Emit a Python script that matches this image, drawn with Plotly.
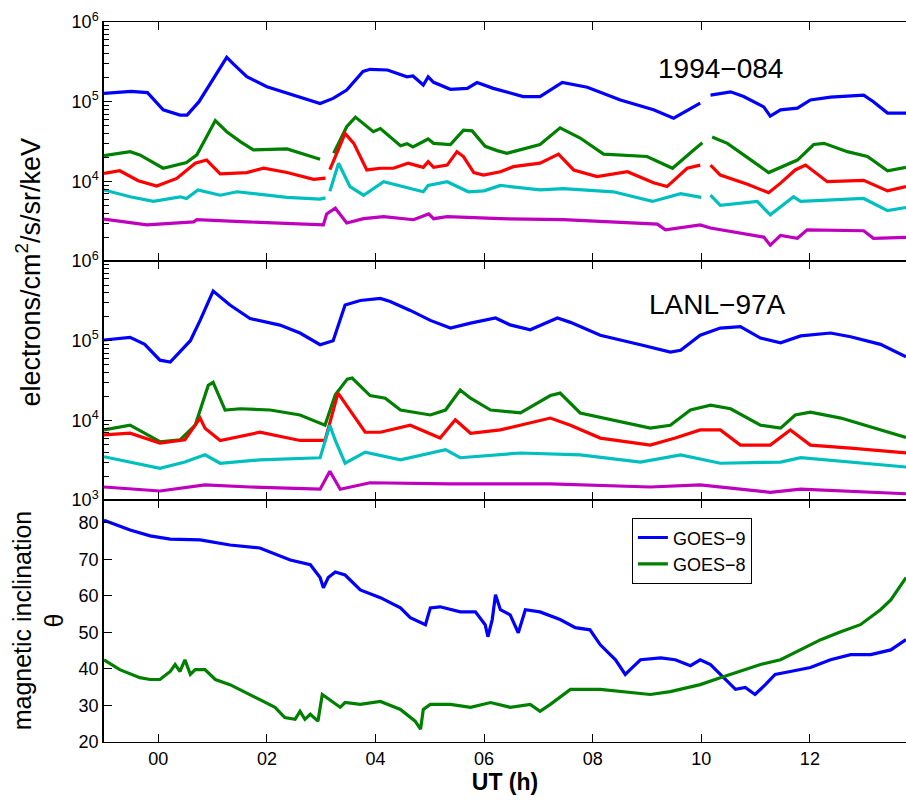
import plotly.graph_objects as go
from plotly.subplots import make_subplots

# ---------------- data ----------------
# Panel 1: 1994-084 (hours UT, flux electrons/cm2/s/sr/keV)
t94_blue = [-1.0, -0.5, -0.2, 0.09, 0.4, 0.53, 0.75, 1.0, 1.26, 1.4, 1.63, 2.0, 2.48, 2.98, 3.22, 3.47, 3.77, 3.9,
            4.22, 4.58, 4.69, 4.88, 4.97, 5.07, 5.38, 5.69, 5.87, 6.17, 6.72, 7.03, 7.44, 7.9, 8.51, 9.12, 9.49, 9.98,
            10.06, 10.17, 10.54, 10.78, 11.15, 11.27, 11.46, 11.77, 12.01, 12.38, 12.99, 13.17, 13.43, 13.77]
v94_blue = [1.27e5, 1.35e5, 1.3e5, 7.9e4, 6.8e4, 6.8e4, 1.0e5, 1.9e5, 3.6e5, 2.9e5, 2.06e5, 1.54e5, 1.21e5, 9.5e4,
            1.1e5, 1.4e5, 2.4e5, 2.55e5, 2.5e5, 2.05e5, 2.1e5, 1.62e5, 2.05e5, 1.75e5, 1.43e5, 1.47e5, 1.74e5, 1.47e5,
            1.16e5, 1.16e5, 1.74e5, 1.52e5, 1.05e5, 7.9e4, 6.2e4, 9.6e4, None, 1.21e5, 1.33e5, 1.16e5, 8.6e4, 6.6e4,
            7.9e4, 8.3e4, 1.05e5, 1.14e5, 1.21e5, 1.0e5, 7.2e4, 7.2e4]

t94_green = [-1.0, -0.52, -0.34, 0.09, 0.52, 0.71, 1.05, 1.26, 1.51, 1.75, 2.37, 2.98, 3.15, 3.23, 3.47, 3.63, 3.96,
             4.09, 4.46, 4.58, 4.69, 4.97, 5.07, 5.38, 5.62, 5.78, 6.02, 6.24, 6.42, 7.03, 7.4, 7.77, 8.2, 9.0, 9.47,
             9.86, 10.02, 10.08, 10.2, 10.48, 10.78, 11.24, 11.77, 12.07, 12.26, 12.69, 13.06, 13.43, 13.77]
v94_green = [2.1e4, 2.36e4, 2.15e4, 1.46e4, 1.72e4, 2.15e4, 5.8e4, 4.2e4, 3.15e4, 2.48e4, 2.55e4, 1.89e4, None,
             2.25e4, 4.85e4, 6.4e4, 4.2e4, 4.6e4, 2.8e4, 2.97e4, 2.7e4, 3.4e4, 3.0e4, 2.9e4, 4.4e4, 4.3e4, 2.75e4,
             2.43e4, 2.25e4, 2.9e4, 4.7e4, 3.5e4, 2.2e4, 2.05e4, 1.46e4, 2.48e4, 3.06e4, None, 3.6e4, 3.0e4, 2.15e4,
             1.29e4, 1.85e4, 2.9e4, 3.0e4, 2.36e4, 2.05e4, 1.36e4, 1.5e4]

t94_red = [-1.0, -0.71, -0.37, -0.03, 0.34, 0.68, 0.89, 1.14, 1.63, 1.94, 2.37, 2.86, 3.08, 3.12, 3.16, 3.44, 3.6,
           3.84, 4.09, 4.33, 4.6, 4.88, 4.97, 5.07, 5.32, 5.5, 5.62, 5.81, 5.99, 6.3, 6.54, 7.03, 7.37, 7.65, 8.08,
           8.64, 9.12, 9.37, 9.74, 9.98, 10.07, 10.17, 10.35, 10.85, 11.24, 11.46, 11.73, 11.92, 12.32, 12.99,
           13.43, 13.77]
v94_red = [1.26e4, 1.36e4, 1.02e4, 8.75e3, 1.09e4, 1.69e4, 1.85e4, 1.24e4, 1.29e4, 1.46e4, 1.29e4, 1.06e4, 1.1e4,
           None, 1.4e4, 4.0e4, 3.0e4, 1.39e4, 1.46e4, 1.46e4, 1.69e4, 1.5e4, 1.77e4, 1.5e4, 1.6e4, 2.36e4, 2.05e4,
           1.29e4, 1.2e4, 1.32e4, 1.53e4, 1.69e4, 2.2e4, 1.39e4, 1.15e4, 1.32e4, 9.6e3, 8.6e3, 1.46e4, 1.6e4, None,
           1.6e4, 1.2e4, 9.2e3, 7.2e3, 9.5e3, 1.39e4, 1.6e4, 9.9e3, 1.03e4, 7.6e3, 8.6e3]

t94_cyan = [-1.0, -0.52, -0.09, 0.4, 0.52, 0.73, 1.14, 1.45, 2.37, 2.98, 3.08, 3.12, 3.16, 3.32, 3.53, 3.78, 4.15,
            4.64, 4.88, 4.97, 5.32, 5.71, 6.0, 6.3, 7.03, 7.46, 8.38, 9.1, 9.62, 10.0, 10.08, 10.17, 10.35, 11.03,
            11.27, 11.7, 11.83, 12.99, 13.43, 13.77]
v94_cyan = [7.8e3, 6.4e3, 5.6e3, 6.4e3, 6.1e3, 7.8e3, 6.7e3, 7.4e3, 6.3e3, 6.0e3, 6.2e3, None, 7.5e3, 1.69e4, 8.6e3,
            6.7e3, 9.9e3, 8.2e3, 7.4e3, 8.9e3, 9.9e3, 7.4e3, 7.6e3, 8.9e3, 7.8e3, 8.1e3, 7.4e3, 5.6e3, 7.0e3, 6.3e3,
            None, 6.7e3, 5.0e3, 5.6e3, 3.8e3, 6.4e3, 5.6e3, 6.1e3, 4.3e3, 4.7e3]

t94_mag = [-1.0, -0.21, 0.65, 0.71, 1.63, 3.04, 3.1, 3.26, 3.47, 3.78, 4.15, 4.7, 4.98, 5.07, 5.32, 6.3, 7.46, 9.19,
           9.34, 9.98, 10.17, 11.15, 11.27, 11.46, 11.77, 11.95, 12.99, 13.17, 13.77]
v94_mag = [3.35e3, 2.84e3, 3.1e3, 3.3e3, 3.1e3, 2.84e3, 3.9e3, 4.6e3, 3.0e3, 3.4e3, 3.6e3, 3.3e3, 3.9e3, 3.4e3, 3.6e3,
           3.4e3, 3.3e3, 2.9e3, 2.46e3, 2.84e3, 2.6e3, 2.0e3, 1.58e3, 2.1e3, 1.93e3, 2.46e3, 2.4e3, 1.93e3, 1.98e3]

# Panel 2: LANL-97A
tL_blue = [-1.0, -0.52, -0.25, 0.03, 0.22, 0.59, 0.77, 1.01, 1.32, 1.69, 2.24, 2.61, 2.98, 3.22, 3.44, 3.72, 4.09,
           4.27, 4.64, 5.01, 5.38, 5.75, 6.21, 6.48, 6.85, 7.35, 7.59, 8.14, 8.88, 9.43, 9.62, 9.98, 10.35, 10.72,
           11.09, 11.46, 11.83, 12.38, 12.75, 13.3, 13.77]
vL_blue = [1.02e5, 1.1e5, 9.0e4, 5.7e4, 5.4e4, 1.0e5, 1.8e5, 4.2e5, 2.8e5, 1.9e5, 1.57e5, 1.25e5, 8.9e4, 1.0e5, 2.8e5,
           3.2e5, 3.4e5, 3.1e5, 2.4e5, 1.8e5, 1.44e5, 1.66e5, 1.93e5, 1.58e5, 1.37e5, 1.93e5, 1.7e5, 1.17e5, 8.9e4,
           7.2e4, 7.6e4, 1.17e5, 1.44e5, 1.5e5, 1.08e5, 9.4e4, 1.15e5, 1.25e5, 1.12e5, 9.0e4, 6.3e4]

tL_green = [-1.0, -0.52, 0.03, 0.4, 0.68, 0.92, 1.01, 1.23, 1.51, 2.06, 2.61, 3.07, 3.26, 3.48, 3.57, 3.9, 4.18, 4.46,
            5.01, 5.29, 5.56, 5.75, 6.12, 6.67, 7.22, 7.4, 7.77, 8.33, 9.06, 9.43, 9.8, 10.17, 10.54, 11.09, 11.46,
            11.73, 12.01, 12.57, 13.12, 13.77]
vL_green = [7.6e3, 8.7e3, 5.4e3, 5.7e3, 8.7e3, 2.75e4, 3.0e4, 1.35e4, 1.4e4, 1.35e4, 1.17e4, 8.7e3, 2.1e4, 3.3e4,
            3.4e4, 2.05e4, 1.9e4, 1.35e4, 1.17e4, 1.35e4, 2.4e4, 1.9e4, 1.35e4, 1.24e4, 2.05e4, 2.2e4, 1.24e4, 1.02e4,
            8.0e3, 8.7e3, 1.35e4, 1.55e4, 1.4e4, 8.7e3, 8.0e3, 1.17e4, 1.27e4, 1.07e4, 8.3e3, 6.1e3]

tL_red = [-1.0, -0.52, 0.03, 0.49, 0.77, 0.86, 1.14, 1.87, 2.61, 3.07, 3.31, 3.53, 3.81, 4.09, 4.64, 5.19, 5.47, 5.75,
          6.3, 7.22, 7.59, 8.14, 9.06, 9.52, 9.98, 10.35, 10.72, 11.27, 11.64, 12.01, 12.75, 13.77]
vL_red = [6.6e3, 6.9e3, 5.2e3, 5.7e3, 1.07e4, 8.0e3, 5.6e3, 7.1e3, 5.6e3, 5.6e3, 2.2e4, 1.35e4, 7.1e3, 7.1e3, 8.7e3,
          6.0e3, 1.02e4, 6.9e3, 7.6e3, 1.07e4, 8.7e3, 6.0e3, 4.9e3, 6.0e3, 7.6e3, 7.6e3, 4.9e3, 4.9e3, 7.6e3, 4.9e3,
          4.5e3, 3.9e3]

tL_cyan = [-1.0, 0.03, 0.49, 0.86, 1.14, 1.87, 2.98, 3.16, 3.26, 3.44, 3.81, 4.46, 5.29, 5.56, 6.67, 7.77, 8.88, 9.62,
           10.35, 11.46, 11.83, 12.75, 13.77]
vL_cyan = [3.5e3, 2.5e3, 3.0e3, 3.7e3, 2.9e3, 3.2e3, 3.4e3, 8.7e3, 5.6e3, 2.9e3, 4.0e3, 3.2e3, 4.3e3, 3.4e3, 3.9e3,
           3.7e3, 3.0e3, 3.7e3, 2.9e3, 3.0e3, 3.4e3, 3.0e3, 2.6e3]

tL_mag = [-1.0, 0.03, 0.86, 1.69, 2.98, 3.16, 3.35, 3.9, 5.38, 7.22, 9.06, 9.98, 11.27, 11.83, 13.77]
vL_mag = [1.46e3, 1.3e3, 1.55e3, 1.46e3, 1.37e3, 2.3e3, 1.37e3, 1.65e3, 1.6e3, 1.6e3, 1.46e3, 1.55e3, 1.25e3, 1.37e3,
          1.2e3]

# Panel 3: magnetic inclination (deg)
t_g9 = [-1.0, -0.52, -0.15, 0.22, 0.77, 1.32, 1.87, 2.43, 2.8, 2.98, 3.04, 3.13, 3.26, 3.44, 3.72, 4.09, 4.46, 4.64,
        4.92, 5.01, 5.19, 5.38, 5.56, 5.84, 6.02, 6.07, 6.15, 6.21, 6.3, 6.48, 6.63, 6.76, 7.03, 7.4, 7.68, 7.95, 8.14,
        8.42, 8.6, 8.69, 8.88, 9.25, 9.52, 9.8, 9.98, 10.17, 10.45, 10.63, 10.81, 10.99, 11.18, 11.36, 11.64, 12.01,
        12.38, 12.75, 13.12, 13.49, 13.77]
v_g9 = [80.7, 78.0, 76.4, 75.5, 75.3, 73.9, 73.1, 69.8, 68.5, 65.0, 62.2, 65.0, 66.5, 65.7, 61.6, 59.5, 56.7, 54.0,
        52.1, 56.7, 57.0, 56.2, 55.6, 55.6, 52.1, 48.8, 53.5, 60.3, 56.2, 54.8, 49.9, 56.2, 55.6, 53.5, 51.3, 50.7, 46.6,
        42.5, 38.5, 39.8, 42.5, 43.0, 42.5, 40.9, 42.5, 41.2, 37.1, 34.4, 34.9, 33.0, 35.7, 38.5, 39.3, 40.4, 42.5,
        43.9, 43.9, 45.2, 48.0]

t_g8 = [-1.0, -0.71, -0.34, -0.15, 0.03, 0.22, 0.31, 0.4, 0.49, 0.59, 0.68, 0.86, 1.05, 1.32, 1.87, 2.15, 2.33, 2.52,
        2.61, 2.7, 2.8, 2.94, 3.02, 3.16, 3.35, 3.44, 3.72, 4.09, 4.46, 4.73, 4.83, 4.88, 5.01, 5.38, 5.75, 6.12, 6.48,
        6.85, 7.03, 7.22, 7.59, 8.14, 8.51, 9.06, 9.43, 9.98, 10.35, 10.72, 11.09, 11.46, 11.83, 12.2, 12.57, 12.93,
        13.3, 13.49, 13.77]
v_g8 = [42.5, 39.8, 37.6, 37.1, 37.1, 39.3, 41.2, 39.3, 42.5, 38.5, 39.8, 39.8, 37.1, 35.7, 31.6, 29.5, 26.7, 26.2,
        28.4, 26.2, 27.6, 25.7, 33.0, 31.6, 29.5, 30.8, 30.3, 31.1, 28.9, 25.7, 23.5, 28.9, 30.3, 30.3, 29.5, 30.8,
        29.5, 30.3, 28.4, 30.3, 34.4, 34.4, 33.8, 33.0, 33.8, 35.7, 37.6, 39.3, 41.2, 42.5, 45.2, 48.0, 50.2, 52.1,
        56.2, 58.9, 65.0]

hour_ticks = [0, 2, 4, 6, 8, 10, 12]
hour_labels = ["00", "02", "04", "06", "08", "10", "12"]
panel_names = ["1994\u2212084", "LANL\u221297A"]
legend_names = ["GOES\u22129", "GOES\u22128"]
minor_log = [m * 10 ** k for k in (3, 4, 5) for m in range(2, 10)]

# ---------------- figure ----------------
BLUE, GREEN, RED, CYAN, MAG = "rgb(0,0,255)", "rgb(0,128,0)", "rgb(255,0,0)", "rgb(0,191,191)", "rgb(191,0,191)"
FONT = "Liberation Sans, Arial, sans-serif"
LW = 3.2

fig = make_subplots(rows=3, cols=1, shared_xaxes=True, vertical_spacing=0)

def add(t, v, color, row, name=None, show=False):
    fig.add_trace(go.Scatter(x=t, y=v, mode="lines", line=dict(color=color, width=LW),
                             connectgaps=False, name=name, showlegend=show), row=row, col=1)

for t, v, c in [(t94_blue, v94_blue, BLUE), (t94_green, v94_green, GREEN), (t94_red, v94_red, RED),
                (t94_cyan, v94_cyan, CYAN), (t94_mag, v94_mag, MAG)]:
    add(t, v, c, 1)
for t, v, c in [(tL_blue, vL_blue, BLUE), (tL_green, vL_green, GREEN), (tL_red, vL_red, RED),
                (tL_cyan, vL_cyan, CYAN), (tL_mag, vL_mag, MAG)]:
    add(t, v, c, 2)
add(t_g9, v_g9, BLUE, 3, legend_names[0], True)
add(t_g8, v_g8, GREEN, 3, legend_names[1], True)

xcommon = dict(range=[-1.0, 13.77], tickvals=hour_ticks, ticktext=hour_labels, showline=True, linecolor="black",
               linewidth=1.2, mirror="allticks", ticks="inside", ticklen=8, tickcolor="black", showgrid=False,
               zeroline=False, tickfont=dict(family=FONT, size=18, color="black"))
fig.update_xaxes(**xcommon)
fig.update_xaxes(showticklabels=False, row=1, col=1)
fig.update_xaxes(showticklabels=False, row=2, col=1)
fig.update_xaxes(title=dict(text="<b>UT (h)</b>", font=dict(family=FONT, size=23, color="black"), standoff=6),
                 row=3, col=1)

ycommon = dict(showline=True, linecolor="black", linewidth=1.5, mirror=False, ticks="inside", ticklen=8,
               tickcolor="black", showgrid=False, zeroline=False,
               tickfont=dict(family=FONT, size=18, color="black"))
minor = dict(ticks="inside", ticklen=5, tickwidth=1, tickcolor="black", showgrid=False, tickmode="array",
             tickvals=minor_log)
fig.update_yaxes(type="log", range=[3, 6], tickvals=[1e4, 1e5, 1e6],
                 ticktext=["10<sup>4</sup>", "10<sup>5</sup>", "10<sup>6</sup>"],
                 minor=minor, row=1, col=1, **ycommon)
fig.update_yaxes(type="log", range=[3, 6], tickvals=[1e3, 1e4, 1e5, 1e6],
                 ticktext=["10<sup>3</sup>", "10<sup>4</sup>", "10<sup>5</sup>", "10<sup>6</sup>"],
                 minor=minor, row=2, col=1, **ycommon)
fig.update_yaxes(range=[20, 86.2], tickvals=[20, 30, 40, 50, 60, 70, 80], row=3, col=1, **ycommon)

fig.update_layout(
    width=906, height=800, plot_bgcolor="white", paper_bgcolor="white",
    margin=dict(l=104, r=0, t=22, b=58),
    yaxis=dict(domain=[0.668, 1.0]), yaxis2=dict(domain=[0.336, 0.668]), yaxis3=dict(domain=[0.0, 0.336]),
    legend=dict(x=0.658, y=0.311, xanchor="left", yanchor="top", bordercolor="black", borderwidth=1.2,
                bgcolor="white", font=dict(family=FONT, size=18, color="black"), tracegroupgap=0,
                itemwidth=30),
    font=dict(family=FONT, color="black"),
    annotations=[
        dict(text=panel_names[0], xref="x", yref="paper", x=10.35, y=0.936, xanchor="center", yanchor="middle",
             showarrow=False, font=dict(family=FONT, size=28, color="black")),
        dict(text=panel_names[1], xref="x", yref="paper", x=10.3, y=0.607, xanchor="center", yanchor="middle",
             showarrow=False, font=dict(family=FONT, size=28, color="black")),
        dict(text="electrons/cm<sup>2</sup>/s/sr/keV", xref="paper", yref="paper", x=0, xshift=-76, y=0.652,
             xanchor="center", yanchor="middle", textangle=-90, showarrow=False,
             font=dict(family=FONT, size=27, color="black")),
        dict(text="magnetic inclination<br>\u03b8", xref="paper", yref="paper", x=0, xshift=-66, y=0.169,
             xanchor="center", yanchor="middle", textangle=-90, showarrow=False,
             font=dict(family=FONT, size=25, color="black")),
    ],
)

fig.write_html("out.html")
